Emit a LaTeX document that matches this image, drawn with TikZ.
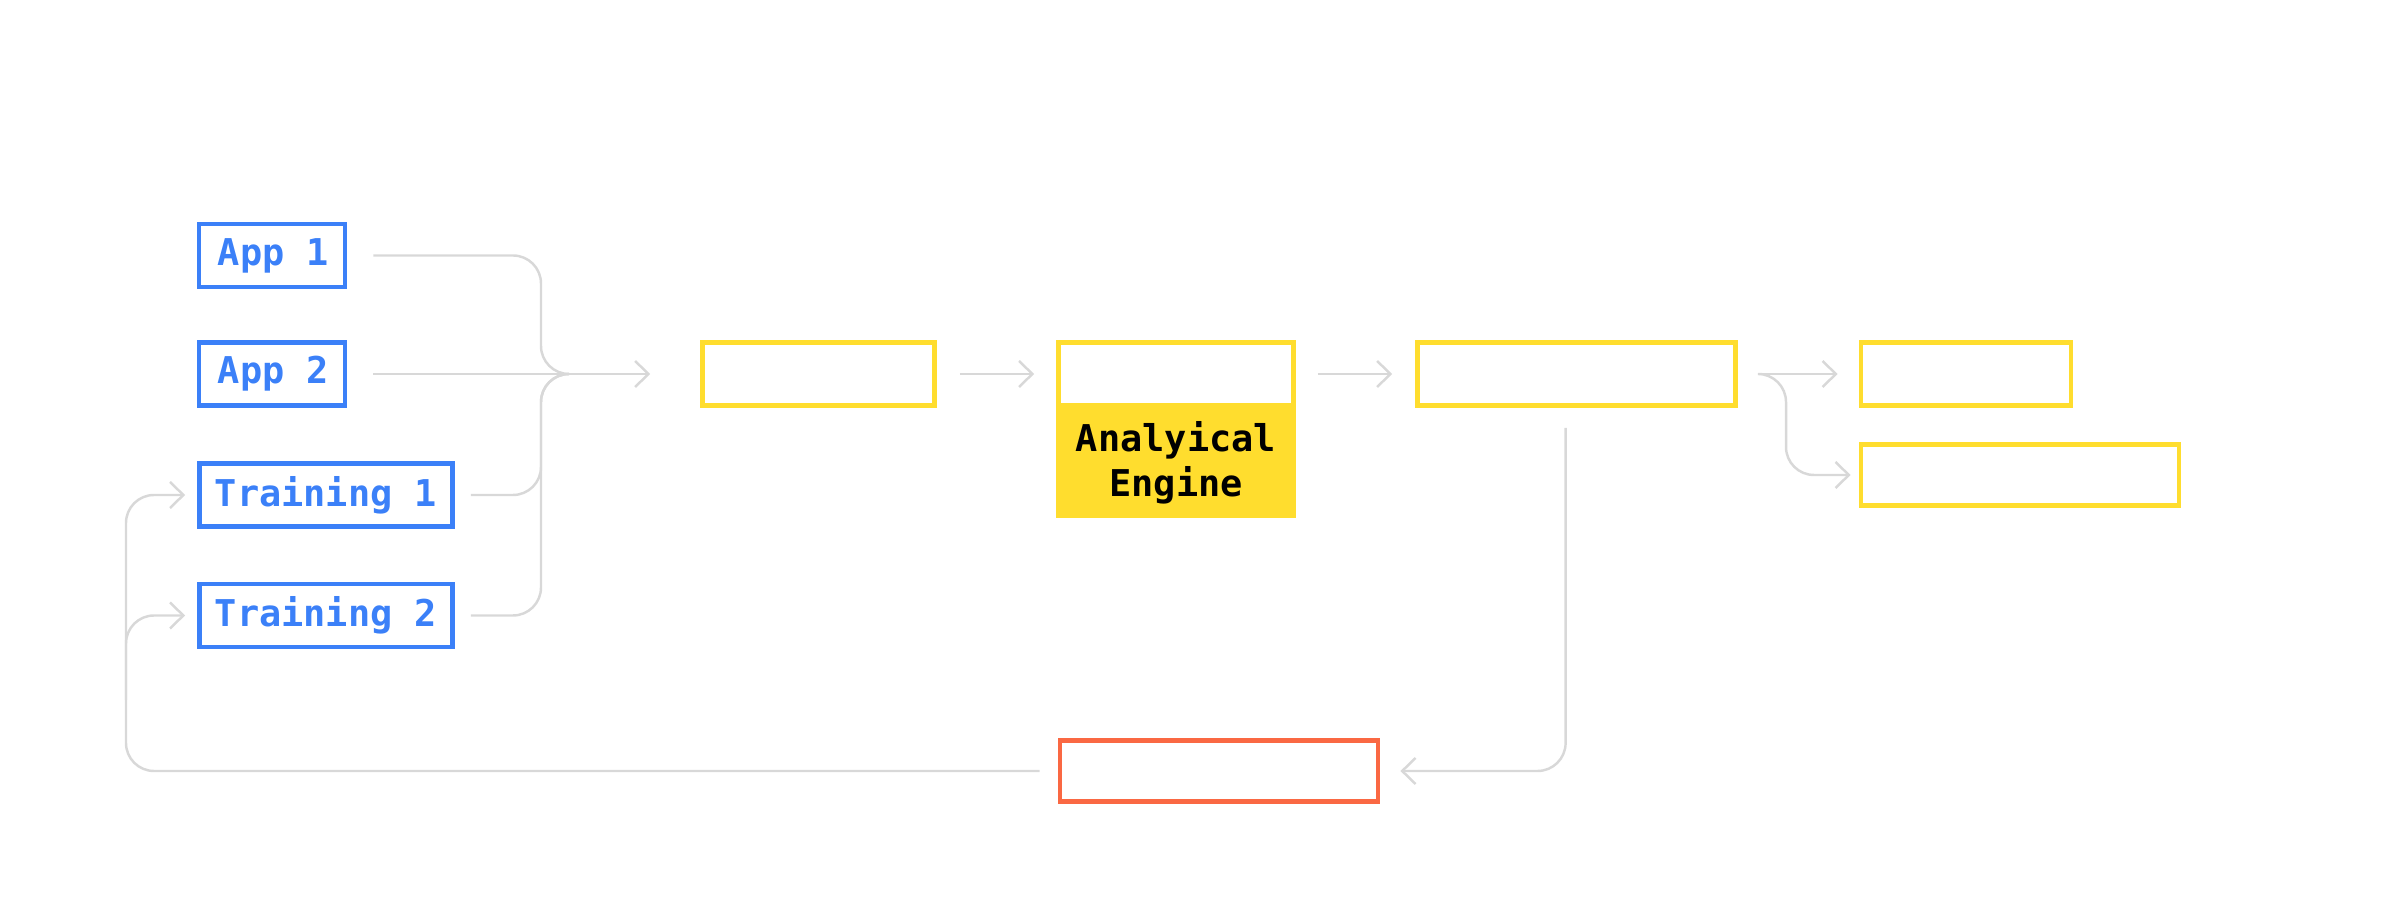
\documentclass[tikz,border=0pt]{standalone}
\usepackage{fontspec}
\setmonofont{DejaVu Sans Mono}
\usetikzlibrary{arrows.meta,positioning}
\definecolor{appblue}{HTML}{3B80F8}
\definecolor{engyellow}{HTML}{FFDD2E}
\definecolor{fbred}{HTML}{FA6843}
\definecolor{linegray}{HTML}{D8D8D8}

\begin{document}
\begin{tikzpicture}[x=0.01cm,y=-0.01cm,
	every node/.style={font=\ttfamily\bfseries\fontsize{10.5}{12.6}\selectfont,
		inner sep=0pt, minimum height=0.63cm},
	app/.style={draw=appblue, text=appblue, line width=1.3pt},
	stage/.style={draw=engyellow, line width=1.3pt},
	fb/.style={draw=fbred, line width=1.3pt},
	link/.style={draw=linegray, line width=0.7pt, rounded corners=0.28cm},
	arr/.style={link, -{Straight Barb[length=3.8pt,width=7.4pt]}}]
\useasboundingbox (0,0) rectangle (2406,904);

% sources
\node[app, minimum width=1.46cm] (a1) at (272,255.5) {\hspace{0.03cm}App 1};
\node[app, minimum width=1.46cm] (a2) at (272,374) {\hspace{0.03cm}App 2};
\node[app, minimum width=2.53cm] (t1) at (326,495) {Training 1};
\node[app, minimum width=2.53cm] (t2) at (326,615.5) {Training 2};

% pipeline
\node[stage, minimum width=2.32cm] (s1) at (818.6,374) {};
\node[stage, minimum width=2.35cm] (ae) at (1176,374) {};
\node[fill=engyellow, minimum width=2.35cm+1.3pt, minimum height=1.1cm,
	outer sep=0pt, align=center, below=0pt of ae] (eng) {Analyical\\Engine};
\node[stage, minimum width=3.18cm] (s3) at (1576.6,374) {};
\node[stage, minimum width=2.10cm] (s4) at (1966,374) {};
\node[stage, minimum width=3.18cm, minimum height=0.61cm] (s5) at (2020,475) {};
\node[fb, minimum width=3.18cm, minimum height=0.61cm] (rv) at (1219,771) {};

\coordinate (jn) at (541,374);
\coordinate (mrg) at (568,374);
\coordinate (br) at (1786,374);
\coordinate (fbx) at (126,771);
\coordinate (fbm) at (126,700);

% merge
\draw[link] ([xshift=0.26cm]a1.east) -| (jn) -- (mrg);
\draw[link] ([xshift=0.16cm]t1.east) -| (jn) -- (mrg);
\draw[link] ([xshift=0.16cm]t2.east) -| (jn) -- (mrg);
\draw[arr] ([xshift=0.26cm]a2.east) -- ([xshift=-0.5cm]s1.west);

\draw[arr] ([xshift=0.23cm]s1.east) -- ([xshift=-0.22cm]ae.west);
\draw[arr] ([xshift=0.22cm]ae.east) -- ([xshift=-0.23cm]s3.west);
\draw[arr] ([xshift=0.24cm]s3.east) -- ([xshift=-0.21cm]s4.west);
\draw[arr] ([xshift=0.24cm]s3.east) -- (br) |- ([xshift=-0.08cm]s5.west);

% feedback
\draw[arr] ([xshift=-0.11cm,yshift=-0.2cm]s3.south) |- ([xshift=0.2cm]rv.east);
\draw[arr] ([xshift=-0.18cm]rv.west) -- (fbx) |- ([xshift=-0.12cm]t1.west);
\draw[arr] (fbm) |- ([xshift=-0.12cm]t2.west);
\end{tikzpicture}
\end{document}
